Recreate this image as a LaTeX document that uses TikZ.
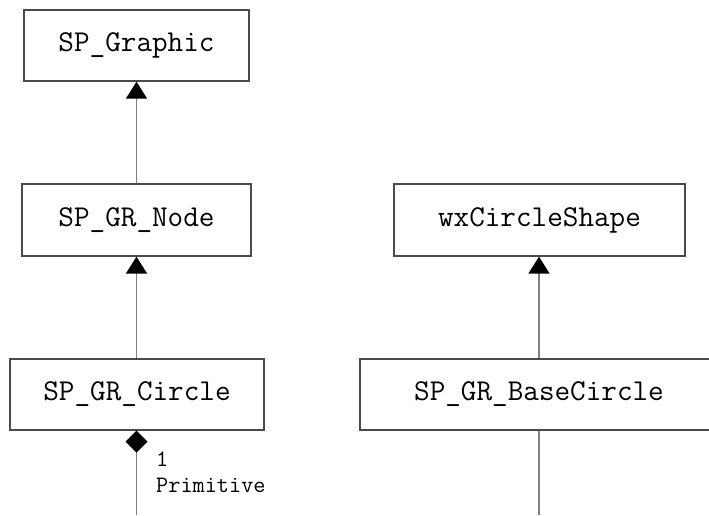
\documentclass[tikz,border=0pt]{standalone}
\usepackage{fontspec}
\usetikzlibrary{arrows.meta}
\definecolor{edgegray}{HTML}{4A4A4A}
\definecolor{linkgray}{HTML}{808080}
\tikzset{
  classbox/.style={draw=edgegray, line width=1.3pt, fill=white, inner sep=0pt,
    font=\ttfamily\fontsize{30.3}{34}\selectfont},
  link/.style={draw=linkgray, line width=1.6pt},
  inherit/.style={link, -{Triangle[width=21pt,length=17pt,color=black]}},
  compose/.style={link, {Diamond[width=22pt,length=22pt,color=black]}-},
  rolelabel/.style={inner sep=0pt, anchor=base west,
    font=\ttfamily\fontsize{23.6}{26}\selectfont}
}
\begin{document}
\begin{tikzpicture}[x=1pt,y=-1pt]
  \useasboundingbox (0,0) rectangle (709,515);
  \fill[white] (0,0) rectangle (709,515);

  \node[classbox, minimum width=225pt, minimum height=71pt] (graphic) at (136.5,45.5) {SP\_Graphic};
  \node[classbox, minimum width=229pt, minimum height=72pt] (node) at (136.5,220) {SP\_GR\_Node};
  \node[classbox, minimum width=254pt, minimum height=71pt] (circle) at (137,394.5) {SP\_GR\_Circle};
  \node[classbox, minimum width=291pt, minimum height=72pt] (shape) at (539.5,220) {wxCircleShape};
  \node[classbox, minimum width=358pt, minimum height=71pt] (base) at (539,394.5) {SP\_GR\_BaseCircle};

  \coordinate (circleend) at (136.5,515);
  \coordinate (baseend) at (539,515);

  \draw[inherit] (node.north -| graphic.south) -- (graphic.south);
  \draw[inherit] (circle.north -| node.south) -- (node.south);
  \draw[inherit] (base.north) -- (base.north |- shape.south);

  \draw[compose] (circle.south -| circleend) -- (circleend);
  \draw[link] (base.south) -- (baseend);

  \node[rolelabel] (mult) at (156,466) {1};
  \node[rolelabel] (role) at (156,492) {Primitive};
\end{tikzpicture}
\end{document}
